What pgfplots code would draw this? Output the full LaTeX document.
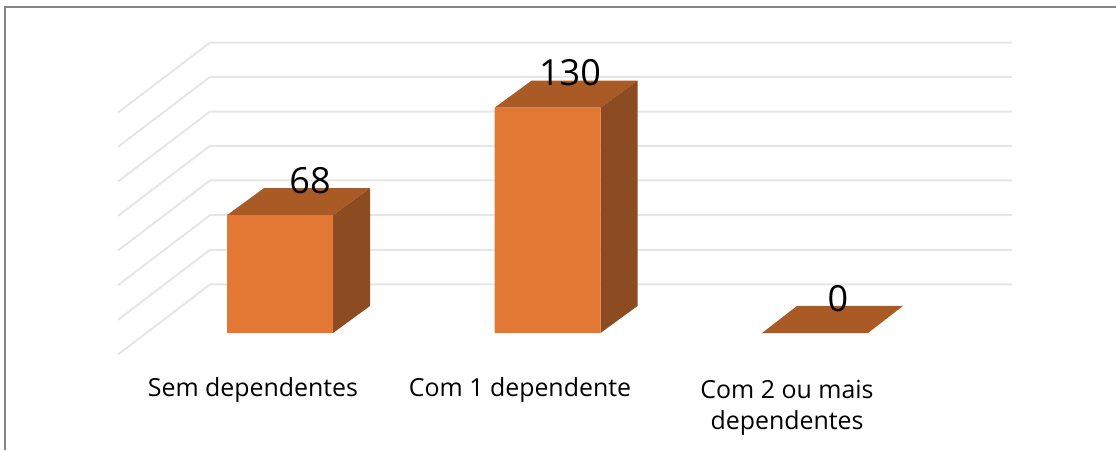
\documentclass[border=0pt]{standalone}
\usepackage{pgfplots}
\pgfplotsset{compat=1.18}
\usepackage{pgfplotstable}
\usepackage{fontspec}
\setmainfont{Open Sans}
\definecolor{barfront}{HTML}{E27833}
\definecolor{bartop}{HTML}{AA5A25}
\definecolor{barside}{HTML}{8C4B20}
\definecolor{gridc}{HTML}{E6E6E6}
\definecolor{framec}{HTML}{858585}
\pgfplotstableread{
x value
280 68
547.5 130
815 0
}\barsdata
\pgfplotstableread{
x value
310 68
570 130
838 0
}\labelsdata
\begin{document}
\begin{tikzpicture}
\begin{axis}[
  scale only axis, width=1116pt, height=450pt,
  xmin=0, xmax=1116, ymin=-67.51, ymax=192.15,
  axis line style={draw=none}, xtick=\empty, ytick=\empty, clip=true,
  every axis plot/.append style={forget plot},
]
% frame
\addplot[framec, line width=1.5pt] coordinates {(5,-67.51) (5,188.1) (1116,188.1)};
% grid lines: side wall, then back wall
\pgfplotsset{gridl/.style={gridc, line width=2pt, line join=miter}}
\addplot[gridl] coordinates {(118,-12.4) (210,28) (1012,28)};
\addplot[gridl] coordinates {(118,7.6) (210,48) (1012,48)};
\addplot[gridl] coordinates {(118,27.6) (210,68) (1012,68)};
\addplot[gridl] coordinates {(118,47.6) (210,88) (1012,88)};
\addplot[gridl] coordinates {(118,67.6) (210,108) (1012,108)};
\addplot[gridl] coordinates {(118,87.4) (210,127.8) (1012,127.8)};
\addplot[gridl] coordinates {(118,107.4) (210,147.8) (1012,147.8)};
\addplot[gridl] coordinates {(118,127.2) (210,167.6) (1012,167.6)};
% bar 1: top and side
\addplot[fill=bartop, draw=none] coordinates {(227,68) (333,68) (370,83.6) (264,83.6)} --cycle;
\addplot[fill=barside, draw=none] coordinates {(333,0) (370,15.6) (370,83.6) (333,68)} --cycle;
% bar 2: top and side
\addplot[fill=bartop, draw=none] coordinates {(494.5,130) (600.5,130) (637.5,145.6) (531.5,145.6)} --cycle;
\addplot[fill=barside, draw=none] coordinates {(600.5,0) (637.5,15.6) (637.5,145.6) (600.5,130)} --cycle;
% bar 3: top only (value 0)
\addplot[fill=bartop, draw=none] coordinates {(762,0) (868,0) (903,15.6) (797,15.6)} --cycle;
% front faces
\addplot[ybar, bar width=106pt, bar shift=0pt, fill=barfront, draw=none] table[x=x, y=value] {\barsdata};
% data labels
\addplot[draw=none, mark=none, point meta=explicit symbolic,
  nodes near coords, every node near coord/.style={anchor=center, inner sep=0pt, font=\fontsize{36}{36}\selectfont, text=black}]
  table[x=x, y expr=\thisrow{value}+20, meta=value] {\labelsdata};
% category labels
\node[font=\fontsize{24.9}{31}\selectfont, align=center, anchor=center] at (axis cs:253,-32.7) {Sem dependentes};
\node[font=\fontsize{24.9}{31}\selectfont, align=center, anchor=center] at (axis cs:520,-32.7) {Com 1 dependente};
\node[font=\fontsize{24.9}{31}\selectfont, align=center, anchor=north] at (axis cs:787,-25) {Com 2 ou mais\\dependentes};
\end{axis}
\end{tikzpicture}
\end{document}
